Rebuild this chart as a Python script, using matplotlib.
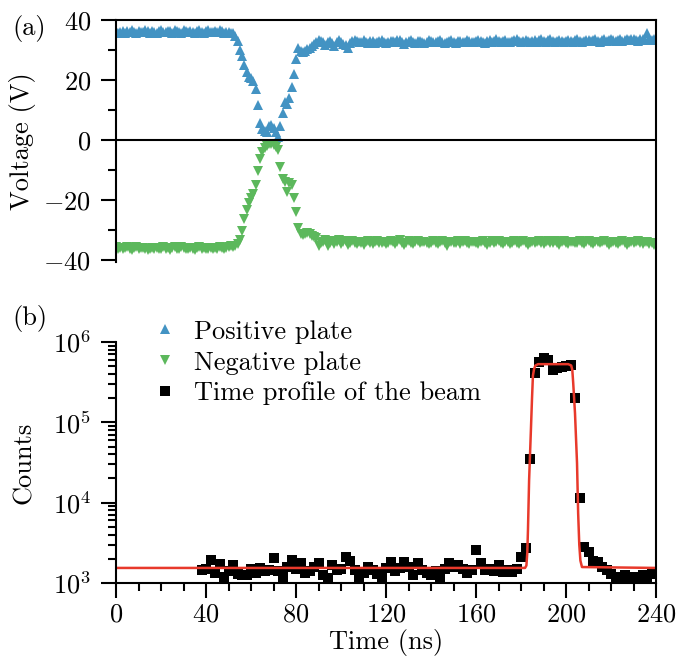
import numpy as np
import matplotlib
matplotlib.use("Agg")
import matplotlib.pyplot as plt
from matplotlib.lines import Line2D
from matplotlib.ticker import MultipleLocator

plt.rcParams["font.family"] = "serif"
plt.rcParams["font.serif"] = ["cmr10"]
plt.rcParams["mathtext.fontset"] = "cm"
plt.rcParams["axes.formatter.use_mathtext"] = True
plt.rcParams["font.size"] = 19

# (a) plate voltages, one sample per ns from 0 to 240 ns
v_pos = [
    36.3, 35.6, 36.1, 36.4, 35.8, 36.2, 35.9, 36.5, 36.0, 35.7,
    36.3, 36.1, 35.9, 36.6, 36.2, 35.8, 36.4, 36.0, 35.5, 36.3,
    36.7, 36.1, 35.9, 36.4, 36.2, 35.7, 36.5, 36.3, 36.0, 35.8,
    36.6, 36.2, 35.9, 36.4, 36.1, 35.6, 36.3, 36.5, 36.0, 35.8,
    36.4, 36.7, 36.1, 35.9, 36.3, 36.0, 36.5, 36.2, 35.8, 36.1,
    35.9, 35.6,
    # 52 - 90
    35.5, 34.5, 33.0, 30.0, 28.0, 25.0, 22.5, 21.0, 20.5, 19.5,
    17.0, 11.5, 5.5, 3.5, 3.0, 2.5, 4.5, 5.0, 4.0, 2.5,
    1.0, 4.5, 9.0, 12.5, 12.0, 14.0, 17.5, 22.0, 27.0, 30.5,
    29.5, 29.2, 29.8, 30.2, 30.5, 31.2, 32.0, 32.8, 33.3,
    # 91 - 240
    33.0, 32.6, 31.8, 32.7, 33.1, 32.4, 31.2, 32.8, 33.2, 32.6,
    32.1, 31.6, 30.6, 32.2, 33.0, 33.4, 33.1, 32.5, 32.8, 33.2,
    32.7, 32.3, 32.9, 33.1, 32.4, 32.6, 33.0, 33.3, 32.8, 32.2,
    32.6, 33.1, 32.9, 32.5, 33.2, 33.4, 32.7, 32.0, 32.6, 33.0,
    33.3, 32.8, 32.4, 32.9, 33.1, 32.6, 32.3, 32.8, 33.2, 32.9,
    32.5, 32.7, 33.1, 33.4, 32.8, 32.4, 32.6, 33.0, 33.2, 32.7,
    32.3, 32.9, 33.1, 32.6, 32.8, 33.3, 33.0, 32.5, 32.7, 33.1,
    33.4, 32.9, 32.6, 32.4, 33.0, 33.2, 32.8, 33.1, 33.5, 32.9,
    32.6, 33.0, 33.3, 32.8, 32.5, 32.9, 33.2, 33.6, 33.1, 32.7,
    33.0, 33.4, 32.9, 32.6, 33.1, 33.3, 32.8, 33.2, 33.7, 33.1,
    32.8, 33.2, 33.5, 33.0, 32.6, 32.9, 33.3, 33.1, 32.7, 33.0,
    33.4, 33.1, 32.8, 33.2, 33.5, 33.0, 32.6, 33.1, 33.4, 33.2,
    32.9, 33.3, 33.6, 33.1, 32.8, 33.2, 33.5, 33.0, 33.3, 33.7,
    33.2, 32.9, 33.4, 33.6, 33.1, 33.3, 33.7, 33.2, 33.5, 33.8,
    33.4, 33.1, 33.5, 33.8, 33.4, 35.6, 33.6, 33.2, 33.5, 33.7,
]

v_neg = [
    -35.8, -36.3, -35.9, -36.5, -36.1, -35.7, -36.2, -36.6, -36.0, -35.8,
    -36.4, -36.1, -35.9, -36.3, -36.7, -36.2, -35.9, -36.4, -36.0, -36.5,
    -36.2, -35.8, -36.3, -36.1, -36.6, -36.0, -35.8, -36.4, -36.2, -35.6,
    -36.1, -36.5, -36.3, -35.9, -36.2, -36.7, -36.0, -35.8, -36.3, -36.1,
    -36.5, -36.2, -35.9, -36.4, -36.0, -36.3, -35.7, -36.1, -36.4, -36.0,
    -35.8, -35.5,
    # 52 - 90
    -35.6, -35.2, -34.8, -33.5, -30.5, -26.5, -23.5, -21.0, -19.5, -18.0,
    -15.0, -10.5, -6.5, -4.0, -2.8, -2.0, -1.5, -1.2, -1.6, -2.2,
    -3.5, -9.0, -13.0, -14.0, -17.3, -14.3, -15.0, -19.5, -24.0, -29.5,
    -31.5, -31.7, -31.2, -31.0, -31.5, -32.0, -32.3, -32.8, -35.5,
    # 91 - 240
    -34.5, -34.0, -33.5, -35.2, -34.3, -33.6, -34.8, -34.0, -33.4, -34.6,
    -34.1, -33.7, -35.0, -34.4, -33.8, -34.2, -34.7, -33.9, -34.3, -35.1,
    -34.0, -33.6, -34.4, -34.8, -34.1, -33.7, -34.5, -34.2, -33.9, -34.6,
    -34.3, -33.8, -34.1, -34.7, -34.0, -33.5, -34.4, -34.9, -34.2, -33.8,
    -34.3, -34.6, -34.0, -33.7, -34.5, -34.1, -33.9, -34.4, -34.8, -34.2,
    -33.8, -34.3, -34.7, -34.0, -33.6, -34.4, -35.2, -34.1, -33.9, -34.5,
    -34.2, -33.8, -34.6, -34.0, -33.7, -34.3, -34.8, -34.1, -33.9, -34.4,
    -34.7, -34.0, -33.6, -34.3, -34.9, -34.2, -33.8, -34.5, -34.1, -33.7,
    -34.4, -34.8, -34.0, -33.9, -34.6, -34.2, -33.7, -34.3, -34.7, -34.1,
    -33.8, -34.4, -34.9, -34.2, -33.9, -34.5, -34.0, -33.6, -34.3, -34.8,
    -34.1, -33.8, -34.5, -34.2, -33.7, -34.4, -34.9, -34.0, -33.8, -34.3,
    -34.6, -34.1, -33.9, -34.5, -34.2, -33.6, -34.4, -34.8, -34.0, -33.8,
    -34.3, -34.7, -34.1, -33.9, -34.5, -34.0, -33.7, -34.4, -34.9, -34.2,
    -33.9, -34.3, -34.6, -34.0, -33.8, -34.5, -35.1, -34.2, -33.9, -34.4,
    -34.0, -33.7, -34.5, -34.8, -34.1, -33.9, -34.6, -34.2, -35.0, -34.4,
]
t_volt = np.arange(len(v_pos))

# (b) beam time profile, 2 ns bins from 38 ns
t_beam = np.arange(38, 241, 2)
counts = [
    1450, 1500, 1930, 1350, 1700, 1190, 1400, 1670, 1300, 1260,
    1260, 1500, 1350, 1540, 1400, 1450, 2050, 1400, 1190, 1580,
    1930, 1500, 1770, 1330, 1400, 1600, 1770, 1250, 1150, 1670,
    1450, 1500, 2100, 1900, 1450, 1190, 1350, 1580, 1450, 1300,
    1150, 1550, 1820, 1400, 1540, 1820, 1600, 1260, 1770, 1450,
    1350, 1260, 1400, 1150, 1500, 1770, 1600, 1670, 1500, 1330,
    1450, 2570, 1770, 1450, 1500, 1400, 1670, 1370, 1450, 1370,
    1500, 2100, 2700, 35000, 410000, 560000, 630000, 590000, 450000, 470000,
    490000, 500000, 520000, 200000, 11400, 2800, 2400, 1900, 1800, 1600,
    1450, 1300, 1200, 1150, 1250, 1100, 1200, 1150, 1250, 1100,
    1300, 1350,
]

# fitted profile
fit_t = [0, 181.8, 182.4, 182.8, 183.1, 183.6, 184.4, 184.9, 185.3, 185.8,
         186.4, 187.6, 201.0, 202.3, 202.8, 203.2, 204.0, 204.9, 205.4,
         205.9, 206.4, 207.1, 240]
fit_c = [1540, 1540, 1650, 2400, 4600, 19000, 80000, 200000, 380000, 460000,
         510000, 530000, 530000, 510000, 450000, 310000, 130000, 31000, 7400,
         3000, 1900, 1580, 1540]

blue = "#4393C3"
green = "#5CB85C"
red = "#E8392B"

fig = plt.figure(figsize=(6.76, 6.57), dpi=100)
ax1 = fig.add_axes([116 / 676, 1 - 262 / 657, 540 / 676, 242 / 657])
ax2 = fig.add_axes([116 / 676, 1 - 583 / 657, 540 / 676, 241 / 657])

ax1.plot(t_volt, v_pos, "^", color=blue, ms=6.5, mew=0)
ax1.plot(t_volt, v_neg, "v", color=green, ms=6.5, mew=0)
ax1.axhline(0, color="k", lw=1.5)
ax1.set_xlim(0, 240)
ax1.set_ylim(-40.67, 40)
ax1.set_yticks([-40, -20, 0, 20, 40])
ax1.yaxis.set_minor_locator(MultipleLocator(10))
ax1.tick_params(axis="x", which="both", bottom=False, labelbottom=False)
ax1.set_ylabel("Voltage (V)")
ax1.yaxis.set_label_coords(-0.148, 0.5)
for s in ["bottom", "right"]:
    ax1.spines[s].set_visible(False)

ax2.plot(t_beam, counts, "s", color="k", ms=6.5, mew=0)
ax2.plot(fit_t, fit_c, "-", color=red, lw=1.8)
ax2.set_yscale("log")
ax2.set_xlim(0, 240)
ax2.set_ylim(1e3, 1e6)
ax2.xaxis.set_major_locator(MultipleLocator(40))
ax2.xaxis.set_minor_locator(MultipleLocator(10))
ax2.set_xlabel("Time (ns)", labelpad=2)
ax2.set_ylabel("Counts")
ax2.yaxis.set_label_coords(-0.148, 0.5)
for s in ["top", "right"]:
    ax2.spines[s].set_visible(False)

for ax in [ax1, ax2]:
    for sp in ax.spines.values():
        sp.set_linewidth(1.5)
    ax.tick_params(which="major", direction="out", length=11, width=1.5)
    ax.tick_params(which="minor", direction="out", length=6, width=1.5)
    ax.tick_params(axis="y", which="major", pad=7)
    ax.tick_params(axis="x", which="major", pad=3)

fig.add_artist(Line2D([656 / 676, 656 / 676], [1 - 583 / 657, 1 - 20 / 657],
                      transform=fig.transFigure, color="k", lw=1.5))

handles = [
    Line2D([], [], ls="none", marker="^", color=blue, ms=6.5, mew=0),
    Line2D([], [], ls="none", marker="v", color=green, ms=6.5, mew=0),
    Line2D([], [], ls="none", marker="s", color="k", ms=6.5, mew=0),
]
labels = ["Positive plate", "Negative plate", "Time profile of the beam"]
ax2.legend(handles, labels, loc="upper left",
           bbox_to_anchor=(149 / 676, 1 - 320 / 657),
           bbox_transform=fig.transFigure, frameon=False, numpoints=1,
           handlelength=1.2, handletextpad=0.5, labelspacing=0.27,
           borderpad=0, borderaxespad=0, fontsize=19)

fig.text(12 / 676, 1 - 28 / 657, "(a)", ha="left", va="center")
fig.text(12 / 676, 1 - 318 / 657, "(b)", ha="left", va="center")

fig.savefig("out.png", dpi=100)
